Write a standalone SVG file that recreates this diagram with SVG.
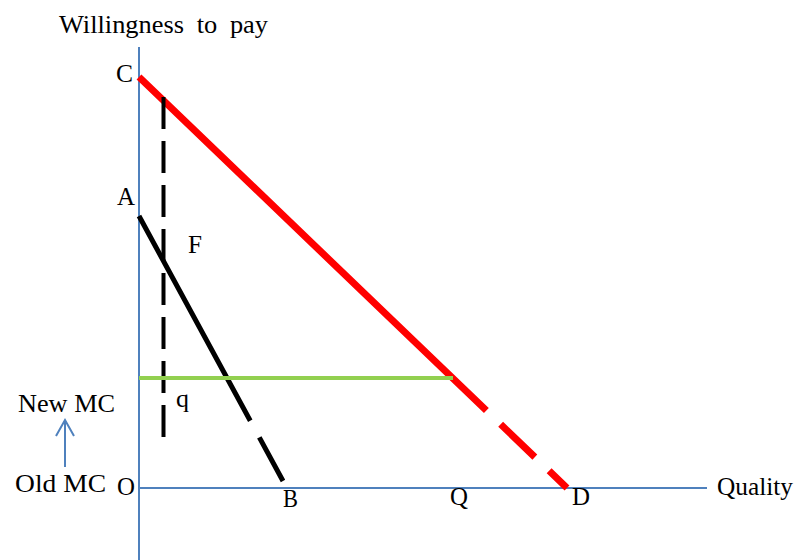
<svg xmlns="http://www.w3.org/2000/svg" width="795" height="560" viewBox="0 0 795 560">
<style>
text{font-family:"Liberation Serif","Times New Roman",serif;font-size:26px;fill:#000}
.ax{stroke:#4f81bd;stroke-width:2;fill:none}
</style>
<rect width="795" height="560" fill="#fff"/>
<g id="axes">
<line class="ax" x1="139" y1="47" x2="139" y2="560"/>
<line class="ax" x1="139" y1="488" x2="707" y2="488"/>
</g>
<g id="connectors">
<line id="new-mb" x1="139" y1="77" x2="567" y2="488" stroke="#ff0000" stroke-width="7" stroke-dasharray="481.6 19.8 47.4 19.8 40"/>
<line id="old-mb" x1="139" y1="216" x2="283" y2="481" stroke="#000" stroke-width="5" stroke-dasharray="233 19 70"/>
<line id="q-line" x1="163.5" y1="97" x2="163.5" y2="437" stroke="#000" stroke-width="4" stroke-dasharray="32 12"/>
<line id="mc" x1="139" y1="378" x2="453" y2="378" stroke="#92d050" stroke-width="4"/>
<g id="shift-arrow" class="ax">
<line x1="65" y1="467" x2="65" y2="420"/>
<polyline points="56,436 65,420 74,436"/>
</g>
</g>
<g id="labels">
<g id="title"><text x="59" y="33" textLength="209" lengthAdjust="spacingAndGlyphs" word-spacing="6">Willingness to pay</text></g>
<g id="C"><text x="116" y="82" textLength="17" lengthAdjust="spacingAndGlyphs">C</text></g>
<g id="A"><text x="117" y="205" textLength="18" lengthAdjust="spacingAndGlyphs">A</text></g>
<g id="F"><text x="188" y="253" textLength="14" lengthAdjust="spacingAndGlyphs">F</text></g>
<g id="q"><text x="176" y="407" textLength="13" lengthAdjust="spacingAndGlyphs">q</text></g>
<g id="newmc"><text x="18" y="412" textLength="97" lengthAdjust="spacingAndGlyphs">New MC</text></g>
<g id="oldmc"><text x="15" y="492" textLength="91" lengthAdjust="spacingAndGlyphs">Old MC</text></g>
<g id="O"><text x="117" y="495" textLength="18" lengthAdjust="spacingAndGlyphs">O</text></g>
<g id="B"><text x="283" y="507" textLength="15" lengthAdjust="spacingAndGlyphs">B</text></g>
<g id="Q"><text x="450" y="505" textLength="18" lengthAdjust="spacingAndGlyphs">Q</text></g>
<g id="D"><text x="572" y="505" textLength="18" lengthAdjust="spacingAndGlyphs">D</text></g>
<g id="quality"><text x="717" y="495" textLength="76" lengthAdjust="spacingAndGlyphs">Quality</text></g>
</g>
</svg>
